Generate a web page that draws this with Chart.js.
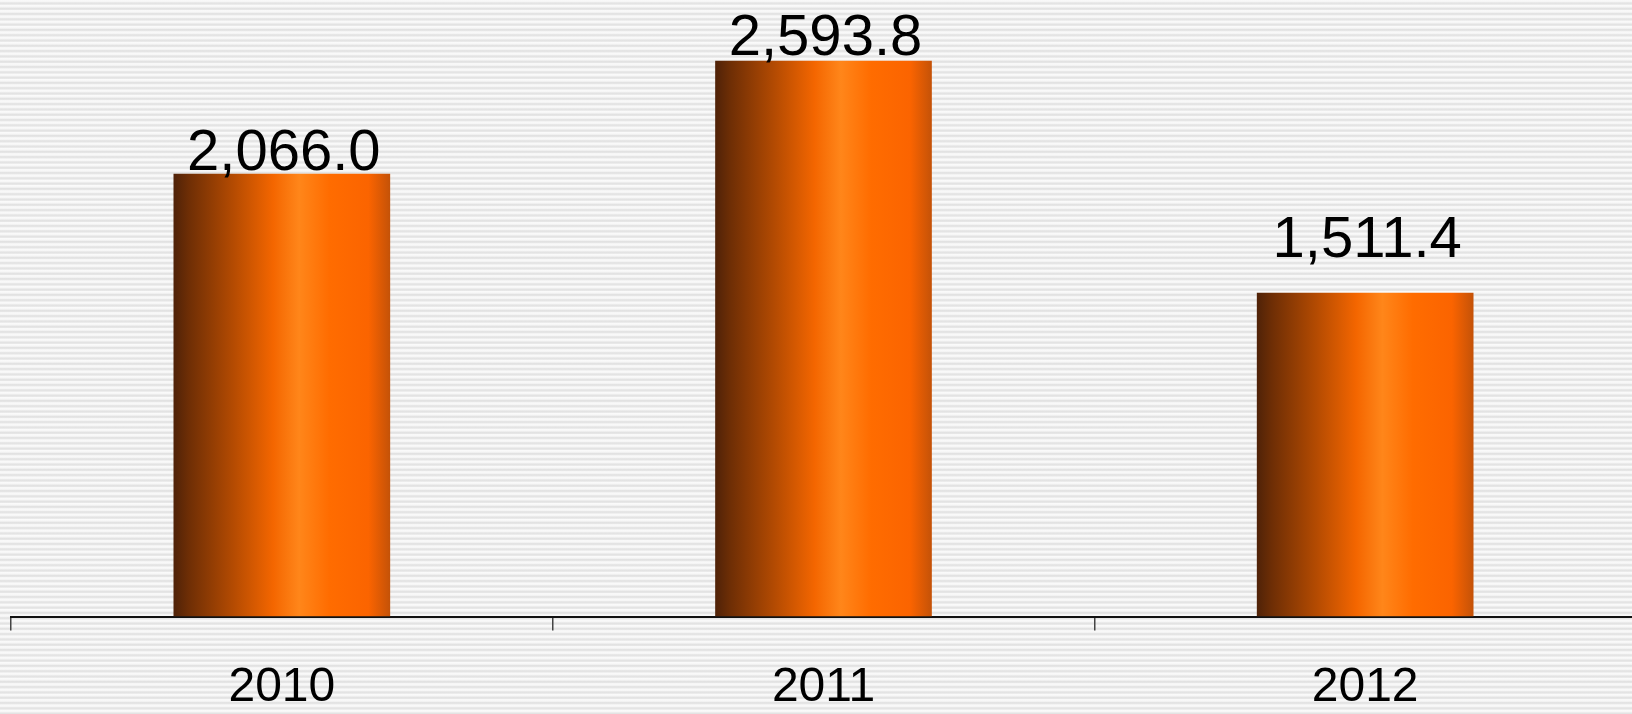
<!DOCTYPE html>
<html>
<head>
<meta charset="utf-8">
<script src="https://cdn.jsdelivr.net/npm/chart.js@4"></script>
<style>
  html, body { margin: 0; padding: 0; overflow: hidden; }
  body {
    width: 1632px; height: 714px;
    background: repeating-linear-gradient(to bottom, #fafafa 0px, #f6f6f6 1.6px, #e2e2e2 3px, #e6e6e6 4.2px, #fafafa 5.3px);
  }
  #wrap { position: absolute; left: 0; top: 0; width: 1636px; height: 714px; }
</style>
</head>
<body>
<div id="wrap"><canvas id="chart"></canvas></div>
<script>
// ── Data ──
const years = ['2010', '2011', '2012'];
const values = [2066.0, 2593.8, 1511.4];
const valueLabels = ['2,066.0', '2,593.8', '1,511.4'];

// gap between bar top and label baseline
const labelGaps = [4, 6, 36];

Chart.defaults.font.family = "'Liberation Sans', Arial, sans-serif";
Chart.defaults.color = '#000';

function barGradient(c) {
    const chart = c.chart;
    const x = chart.scales.x;
    if (!x || !chart.chartArea) return '#ff6a00';
    const center = x.getPixelForValue(c.dataIndex);
    const w = (x.width / years.length) * 0.4;
    const g = chart.ctx.createLinearGradient(center - w / 2, 0, center + w / 2, 0);
    g.addColorStop(0, '#4f2208');
    g.addColorStop(0.07, '#6e2e05');
    g.addColorStop(0.27, '#b24a02');
    g.addColorStop(0.46, '#f46600');
    g.addColorStop(0.58, '#ff861a');
    g.addColorStop(0.72, '#ff6c00');
    g.addColorStop(0.9, '#fb6400');
    g.addColorStop(1, '#c45208');
    return g;
}

// ── Value labels above the bars ──
const valueLabelPlugin = {
    id: 'valueLabels',
    afterDatasetsDraw(chart) {
        const ctx = chart.ctx;
        const meta = chart.getDatasetMeta(0);
        ctx.save();
        ctx.font = "58px 'Liberation Sans', Arial, sans-serif";
        ctx.fillStyle = '#000';
        ctx.textAlign = 'center';
        ctx.textBaseline = 'alphabetic';
        meta.data.forEach((bar, i) => {
            ctx.fillText(valueLabels[i], bar.x + 2, bar.y - labelGaps[i]);
        });
        ctx.restore();
    }
};

new Chart(document.getElementById('chart'), {
    type: 'bar',
    data: {
        labels: years,
        datasets: [{
            data: values,
            backgroundColor: barGradient,
            borderWidth: 0,
            categoryPercentage: 1,
            barPercentage: 0.4
        }]
    },
    options: {
        responsive: true, maintainAspectRatio: false,
        animation: false,
        layout: { padding: { left: 11, top: 16.5, right: 0, bottom: 0 } },
        plugins: { legend: { display: false }, tooltip: { enabled: false } },
        scales: {
            x: {
                offset: true,
                grid: { display: true, drawOnChartArea: false, drawTicks: true, tickLength: 14, color: '#444', lineWidth: 1.5 },
                border: { display: true, color: '#111', width: 2 },
                ticks: { font: { size: 48 }, color: '#000', padding: 28 },
                afterFit: s => { s.height = 97.5; }
            },
            y: {
                display: false,
                min: 0, max: 2800
            }
        }
    },
    plugins: [valueLabelPlugin]
});
</script>
</body>
</html>
